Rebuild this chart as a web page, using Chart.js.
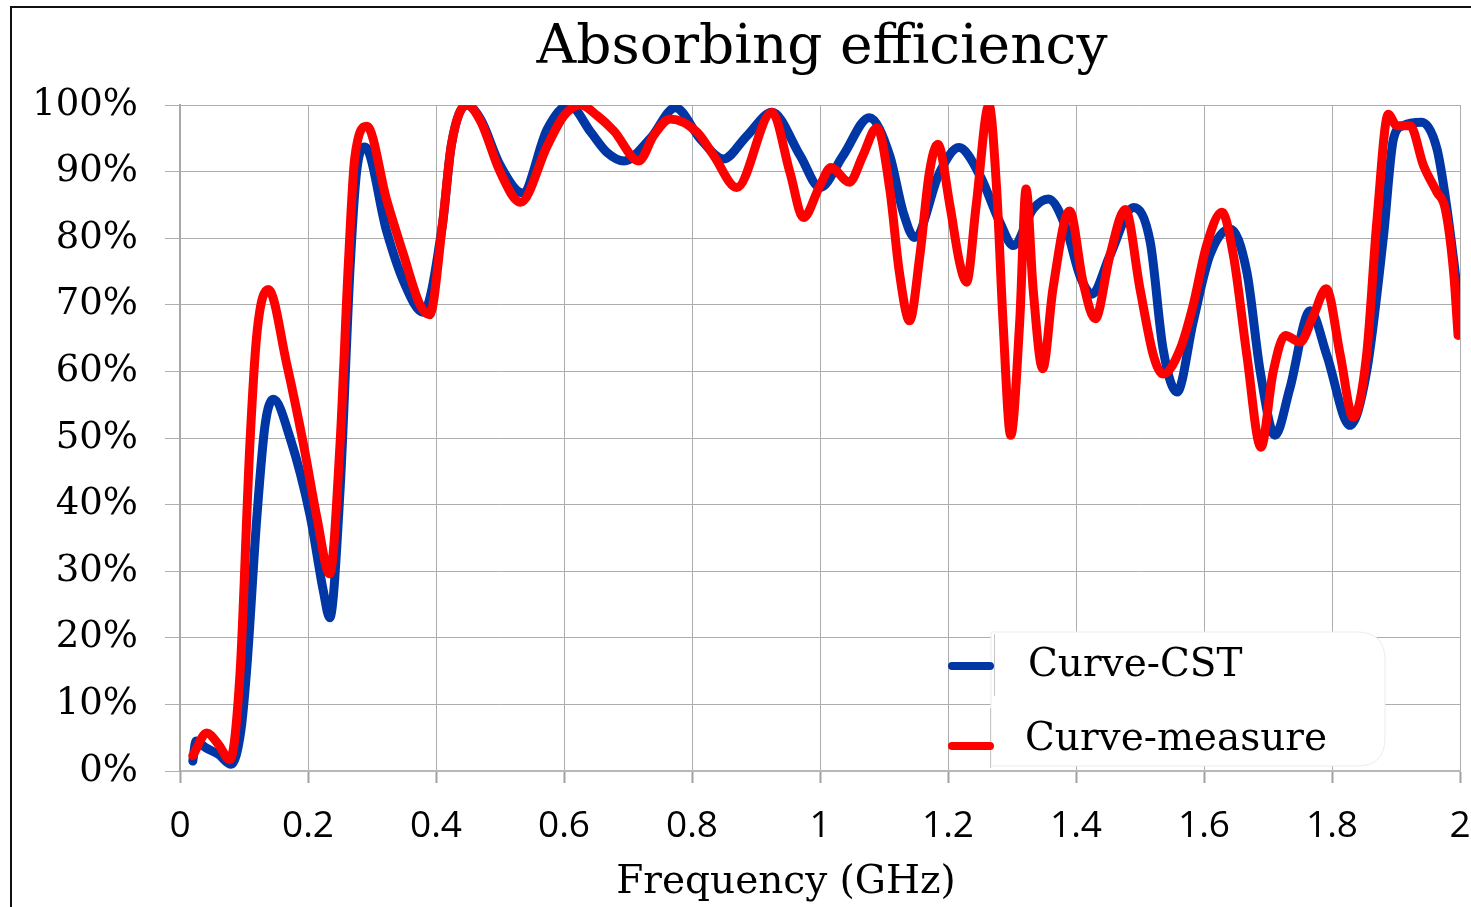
<!DOCTYPE html>
<html>
<head>
<meta charset="utf-8">
<script src="https://cdn.jsdelivr.net/npm/chart.js@4.4.1/dist/chart.umd.min.js"></script>
<style>
  html, body { margin: 0; padding: 0; background: #fff; }
  #wrap { width: 1471px; height: 907px; position: relative; }
  canvas { display: block; }
</style>
</head>
<body>
<div id="wrap"><canvas id="chart" width="1471" height="907"></canvas></div>
<script>
// ---- Text ----
const chartTitle = 'Absorbing efficiency';
const xAxisTitle = 'Frequency (GHz)';
const seriesNames = ['Curve-CST', 'Curve-measure'];

// ---- Tick labels ----
const freqTickLabels = ['0', '0.2', '0.4', '0.6', '0.8', '1', '1.2', '1.4', '1.6', '1.8', '2'];
const efficiencyTickLabels = ['0%', '10%', '20%', '30%', '40%', '50%', '60%', '70%', '80%', '90%', '100%'];

// ---- Simulated absorption (CST), frequency in GHz / efficiency in % ----
const cstFreq = [
  0.02, 0.025, 0.04, 0.06, 0.08, 0.095, 0.104, 0.12, 0.133, 0.146,
  0.172, 0.203, 0.224, 0.234, 0.25, 0.266, 0.276, 0.289, 0.323, 0.349,
  0.38, 0.41, 0.424, 0.448, 0.47, 0.5, 0.535, 0.574, 0.608, 0.642,
  0.667, 0.694, 0.735, 0.774, 0.813, 0.849, 0.886, 0.925, 0.969, 1.0,
  1.036, 1.077, 1.109, 1.13, 1.148, 1.187, 1.217, 1.25, 1.281, 1.302,
  1.333, 1.357, 1.385, 1.406, 1.425, 1.453, 1.49, 1.516, 1.536, 1.558,
  1.583, 1.609, 1.641, 1.667, 1.688, 1.711, 1.734, 1.766, 1.792, 1.828,
  1.854, 1.88, 1.896, 1.911, 1.94, 1.964, 1.979, 2.0
];
const cstValue = [
  1.5, 4.5, 3.5, 2.5, 1.0, 6.0, 15.0, 38.0, 52.0, 55.8,
  50.0, 38.5, 27.0, 23.0, 42.0, 76.0, 90.0, 93.7, 81.0, 73.6,
  68.9, 82.0, 94.0, 100.0, 97.8, 91.0, 86.8, 96.4, 100.0, 95.9,
  92.9, 91.6, 95.0, 99.6, 94.9, 91.9, 95.4, 98.9, 92.4, 87.6,
  92.4, 98.1, 92.4, 83.9, 80.1, 89.9, 93.6, 89.4, 82.4, 78.9,
  84.4, 85.9, 81.4, 74.4, 71.6, 77.4, 84.6, 79.4, 63.4, 56.9,
  67.4, 77.4, 81.4, 74.9, 59.9, 50.4, 57.4, 69.1, 62.4, 51.9,
  59.9, 79.9, 94.9, 96.9, 97.4, 93.4, 84.9, 69.0
];

// ---- Measured absorption, frequency in GHz / efficiency in % ----
const measFreq = [
  0.02, 0.042, 0.06, 0.078, 0.094, 0.109, 0.12, 0.138, 0.167, 0.193,
  0.214, 0.234, 0.25, 0.263, 0.273, 0.292, 0.323, 0.349, 0.375, 0.39,
  0.41, 0.424, 0.448, 0.47, 0.5, 0.532, 0.574, 0.6, 0.626, 0.652,
  0.678, 0.717, 0.74, 0.766, 0.808, 0.834, 0.87, 0.925, 0.953, 0.974,
  1.0, 1.017, 1.046, 1.067, 1.089, 1.109, 1.124, 1.14, 1.156, 1.171,
  1.184, 1.203, 1.218, 1.229, 1.244, 1.264, 1.276, 1.286, 1.298, 1.312,
  1.322, 1.333, 1.348, 1.364, 1.39, 1.411, 1.43, 1.453, 1.477, 1.5,
  1.521, 1.536, 1.563, 1.583, 1.604, 1.628, 1.646, 1.667, 1.689, 1.708,
  1.727, 1.75, 1.771, 1.791, 1.813, 1.833, 1.854, 1.87, 1.888, 1.901,
  1.922, 1.943, 1.964, 1.977, 1.99, 1.997
];
const measValue = [
  2.3, 5.7, 4.0, 1.7, 15.0, 48.7, 65.5, 72.3, 61.0, 49.0,
  38.0, 29.6, 49.0, 76.0, 92.0, 96.8, 85.7, 77.6, 70.0, 68.5,
  82.0, 94.0, 100.0, 97.5, 90.0, 85.4, 93.9, 98.4, 100.0, 98.4,
  96.1, 91.6, 95.4, 97.9, 95.9, 92.4, 87.6, 98.9, 89.9, 83.1,
  87.9, 90.6, 88.4, 92.4, 96.6, 87.4, 74.9, 67.6, 77.4, 89.9,
  94.1, 84.9, 76.4, 73.4, 84.9, 100.0, 87.4, 67.4, 50.4, 67.4,
  87.4, 72.4, 60.4, 72.4, 84.1, 73.4, 67.9, 77.4, 84.3, 72.4,
  62.4, 59.6, 63.4, 69.9, 78.9, 83.9, 77.4, 62.4, 48.6, 59.9,
  65.4, 64.4, 68.4, 72.4, 62.4, 53.1, 62.4, 82.4, 98.6, 96.9,
  96.9, 90.9, 86.9, 84.4, 74.9, 65.4
];

const seriesColors = ['#0037a5', '#ff0000'];

const toPoints = (xs, ys) => xs.map((x, i) => ({ x, y: ys[i] }));

// White page with a dark frame around the figure
const framePlugin = {
  id: 'frame',
  beforeDraw(chart) {
    const { ctx, width, height } = chart;
    ctx.save();
    ctx.fillStyle = '#ffffff';
    ctx.fillRect(0, 0, width, height);
    ctx.restore();
  },
  afterDraw(chart) {
    const { ctx } = chart;
    ctx.save();
    ctx.strokeStyle = '#111';
    ctx.lineWidth = 2;
    ctx.strokeRect(11, 7, 1600, 1000);
    ctx.restore();
  }
};

// Chart title and frequency axis title
const titlesPlugin = {
  id: 'titles',
  afterDraw(chart) {
    const { ctx, chartArea } = chart;
    ctx.save();
    ctx.fillStyle = '#000';
    ctx.textAlign = 'center';
    ctx.textBaseline = 'alphabetic';
    ctx.font = '55px "DejaVu Serif"';
    ctx.fillText(chartTitle, (chartArea.left + chartArea.right) / 2 + 2, 63);
    ctx.font = '39px "DejaVu Serif"';
    ctx.fillText(xAxisTitle, 786, 893);
    ctx.restore();
  }
};

// Legend box in the lower right of the plot
const legendBoxPlugin = {
  id: 'legendBox',
  afterDatasetsDraw(chart) {
    const { ctx } = chart;
    const ds = chart.data.datasets;
    ctx.save();
    // white panel
    const x0 = 991, y0 = 632, x1 = 1385, y1 = 766, r = 28;
    ctx.beginPath();
    ctx.moveTo(x0, y0);
    ctx.lineTo(x1 - r, y0);
    ctx.quadraticCurveTo(x1, y0, x1, y0 + r);
    ctx.lineTo(x1, y1 - r);
    ctx.quadraticCurveTo(x1, y1, x1 - r, y1);
    ctx.lineTo(x0, y1);
    ctx.closePath();
    ctx.fillStyle = '#ffffff';
    ctx.fill();
    ctx.strokeStyle = '#ececec';
    ctx.lineWidth = 1;
    ctx.stroke();
    ctx.strokeStyle = '#c8c8c8';
    ctx.beginPath();
    ctx.moveTo(994.5, 634); ctx.lineTo(994.5, 696);
    ctx.moveTo(990.5, 708); ctx.lineTo(990.5, 768);
    ctx.stroke();

    const rows = [666, 746];
    const textX = [1028, 1025];
    const textY = [666, 740];
    ds.forEach((d, i) => {
      ctx.strokeStyle = d.borderColor;
      ctx.lineWidth = 8;
      ctx.lineCap = 'round';
      ctx.beginPath();
      ctx.moveTo(952, rows[i]);
      ctx.lineTo(990, rows[i]);
      ctx.stroke();
      ctx.fillStyle = '#000';
      ctx.font = '39px "DejaVu Serif"';
      ctx.textAlign = 'left';
      ctx.textBaseline = 'middle';
      ctx.fillText(d.label, textX[i], textY[i]);
    });
    ctx.restore();
  }
};

const gridColor = '#adadad';

new Chart(document.getElementById('chart'), {
  type: 'line',
  data: {
    datasets: [
      {
        label: seriesNames[0],
        data: toPoints(cstFreq, cstValue),
        borderColor: seriesColors[0],
        borderWidth: 9,
        order: 1
      },
      {
        label: seriesNames[1],
        data: toPoints(measFreq, measValue),
        borderColor: seriesColors[1],
        borderWidth: 9,
        order: 0
      }
    ]
  },
  options: {
    responsive: false,
    animation: false,
    devicePixelRatio: 1,
    layout: { padding: { top: 105, right: 11, bottom: 0, left: 0 } },
    elements: {
      point: { radius: 0, hoverRadius: 0 },
      line: { cubicInterpolationMode: 'monotone', borderCapStyle: 'round', borderJoinStyle: 'round', fill: false }
    },
    plugins: {
      legend: { display: false },
      title: { display: false },
      tooltip: { enabled: false }
    },
    scales: {
      x: {
        type: 'linear',
        min: 0,
        max: 2,
        ticks: {
          stepSize: 0.2,
          autoSkip: false,
          maxRotation: 0,
          padding: 21,
          color: '#000',
          font: { family: '"Open Sans"', size: 37 },
          callback: (v, i) => freqTickLabels[i]
        },
        grid: {
          color: gridColor,
          lineWidth: 1,
          borderDash: [2, 2],
          drawTicks: true,
          tickLength: 12,
          tickColor: '#a0a0a0',
          tickBorderDash: [],
          tickWidth: 2
        },
        border: { display: true, color: '#b8b8b8', width: 2 },
        afterFit: (scale) => {
          scale.height = 136;
          scale.paddingLeft = 0;
          scale.paddingRight = 0;
        }
      },
      y: {
        type: 'linear',
        min: 0,
        max: 100,
        ticks: {
          stepSize: 10,
          padding: 27,
          color: '#000',
          font: { family: '"DejaVu Serif"', size: 37 },
          callback: (v, i) => efficiencyTickLabels[i]
        },
        grid: {
          color: gridColor,
          lineWidth: 1,
          borderDash: [2, 2],
          drawTicks: true,
          tickLength: 15,
          tickColor: '#b0b0b0',
          tickBorderDash: [],
          tickWidth: 1
        },
        border: { display: true, color: '#a8a8a8', width: 2 },
        afterFit: (scale) => { scale.width = 180; }
      }
    }
  },
  plugins: [framePlugin, titlesPlugin, legendBoxPlugin]
});
</script>
</body>
</html>
